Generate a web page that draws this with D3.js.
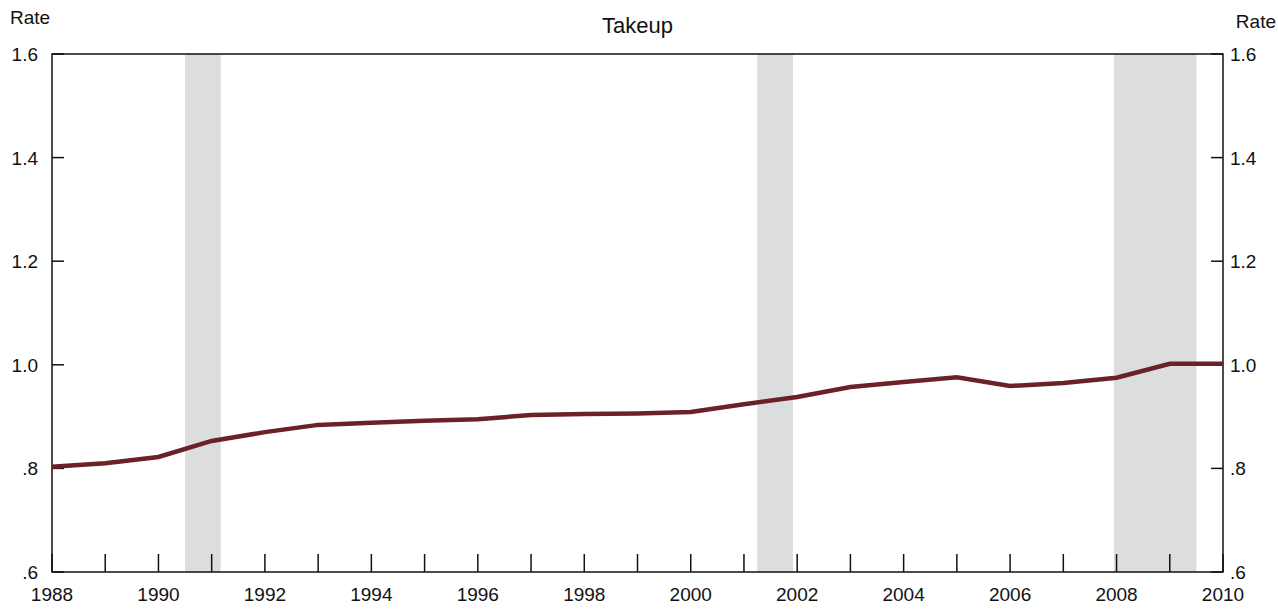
<!DOCTYPE html>
<html>
<head>
<meta charset="utf-8">
<style>
body { margin: 0; background: #fff; }
text { font-family: "Liberation Sans", Arial, sans-serif; fill: #111; }
</style>
</head>
<body>
<div id="chart"></div>
<script src="https://d3js.org/d3.v7.min.js"></script>
<script>
var years = [1988,1989,1990,1991,1992,1993,1994,1995,1996,1997,1998,1999,2000,2001,2002,2003,2004,2005,2006,2007,2008,2009,2010];
var takeup = [.803,.810,.822,.853,.870,.884,.888,.892,.895,.903,.905,.906,.909,.924,.938,.957,.967,.976,.959,.965,.975,1.002,1.002];
var recessions = [[1990.5,1991.17],[2001.25,2001.92],[2007.95,2009.5]];
var yTicks = [0.6,0.8,1.0,1.2,1.4,1.6];
var xLabels = [1988,1990,1992,1994,1996,1998,2000,2002,2004,2006,2008,2010];

var margin = {top: 54, right: 55, bottom: 37, left: 52},
    width = 1278 - margin.left - margin.right,
    height = 609 - margin.top - margin.bottom;

var x = d3.scaleLinear().domain([1988, 2010]).range([0, width]);
var y = d3.scaleLinear().domain([0.6, 1.6]).range([height, 0]);

var fmt = function(d) { return d < 1 ? d3.format(".1f")(d).replace(/^0/, "") : d3.format(".1f")(d); };

var svg = d3.select("#chart").append("svg")
    .attr("width", 1278).attr("height", 609)
  .append("g")
    .attr("transform", "translate(" + margin.left + "," + margin.top + ")");

svg.selectAll(".rec").data(recessions).enter().append("rect")
    .attr("x", function(d) { return x(d[0]); })
    .attr("width", function(d) { return x(d[1]) - x(d[0]); })
    .attr("y", 0).attr("height", height)
    .attr("fill", "#dcdddf");

// frame
svg.append("rect").attr("width", width).attr("height", height)
    .attr("fill", "none").attr("stroke", "#111").attr("stroke-width", 1.5);

// x ticks (inward)
svg.selectAll(".xt").data(years).enter().append("line")
    .attr("x1", function(d) { return x(d); }).attr("x2", function(d) { return x(d); })
    .attr("y1", height).attr("y2", height - 18)
    .attr("stroke", "#111").attr("stroke-width", 1.5);
svg.selectAll(".xl").data(xLabels).enter().append("text")
    .attr("x", function(d) { return x(d); }).attr("y", height + 29)
    .attr("text-anchor", "middle").style("font-size", "19px")
    .text(function(d) { return d; });

// y ticks both sides
svg.selectAll(".yl").data(yTicks).enter().append("line")
    .attr("x1", 0).attr("x2", 12)
    .attr("y1", function(d) { return y(d); }).attr("y2", function(d) { return y(d); })
    .attr("stroke", "#111").attr("stroke-width", 1.5);
svg.selectAll(".yr").data(yTicks).enter().append("line")
    .attr("x1", width - 12).attr("x2", width)
    .attr("y1", function(d) { return y(d); }).attr("y2", function(d) { return y(d); })
    .attr("stroke", "#111").attr("stroke-width", 1.5);
svg.selectAll(".ylt").data(yTicks).enter().append("text")
    .attr("x", -14).attr("y", function(d) { return y(d) + 7; })
    .attr("text-anchor", "end").style("font-size", "19px")
    .text(fmt);
svg.selectAll(".yrt").data(yTicks).enter().append("text")
    .attr("x", width + 7).attr("y", function(d) { return y(d) + 7; })
    .attr("text-anchor", "start").style("font-size", "19px")
    .text(fmt);

svg.append("text").attr("x", -42).attr("y", -30).style("font-size", "19px").text("Rate");
svg.append("text").attr("x", width + 53).attr("y", -26).attr("text-anchor", "end").style("font-size", "19px").text("Rate");
svg.append("text").attr("x", x(1999)).attr("y", -21).attr("text-anchor", "middle").style("font-size", "22px").text("Takeup");

var line = d3.line()
    .x(function(d, i) { return x(years[i]); })
    .y(function(d) { return y(d); });

svg.append("path").datum(takeup)
    .attr("d", line).attr("fill", "none")
    .attr("stroke", "#6b2128").attr("stroke-width", 4.5);
</script>
</body>
</html>
